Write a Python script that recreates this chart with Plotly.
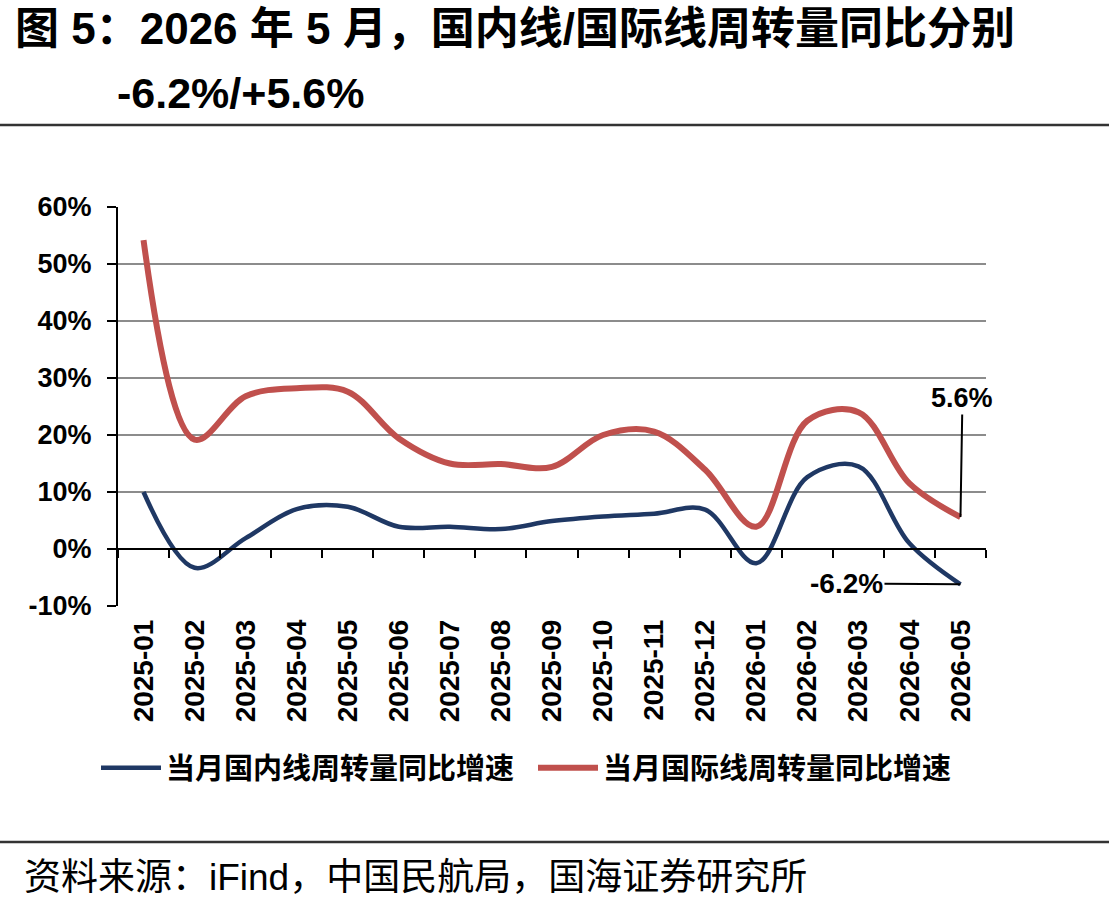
import plotly.graph_objects as go

months = ["2025-01", "2025-02", "2025-03", "2025-04", "2025-05", "2025-06",
          "2025-07", "2025-08", "2025-09", "2025-10", "2025-11", "2025-12",
          "2026-01", "2026-02", "2026-03", "2026-04", "2026-05"]
domestic = [0.100, -0.033, 0.019, 0.070, 0.074, 0.039, 0.039, 0.035, 0.049,
            0.057, 0.062, 0.069, -0.025, 0.126, 0.145, 0.010, -0.062]
international = [0.542, 0.192, 0.268, 0.282, 0.276, 0.194, 0.150, 0.149, 0.144,
                 0.200, 0.206, 0.139, 0.039, 0.225, 0.240, 0.115, 0.056]
name_dom = "当月国内线周转量同比增速"
name_int = "当月国际线周转量同比增速"
y_ticks = [-0.1, 0.0, 0.1, 0.2, 0.3, 0.4, 0.5, 0.6]
y_ticktext = ["%d%%" % round(v * 100) for v in y_ticks]

title1 = "图 5：2026 年 5 月，国内线/国际线周转量同比分别"
title2 = "-6.2%/+5.6%"
source = "资料来源：iFind，中国民航局，国海证券研究所"

W, H = 1109, 909
ML, MR, MT, MB = 118, 123, 207, 303
PW, PH = W - ML - MR, H - MT - MB
FONT = "Liberation Sans, Arial, Noto Sans CJK SC"
BLUE = "#1F3864"
RED = "#C0504D"


def px(x):
    return (x - ML) / PW


def py(y):
    return (H - MB - y) / PH


fig = go.Figure()
fig.add_trace(go.Scatter(x=months, y=domestic, name=name_dom, mode="lines",
                         legend="legend",
                         line=dict(color=BLUE, width=4.5, shape="spline", smoothing=1.0)))
fig.add_trace(go.Scatter(x=months, y=international, name=name_int, mode="lines",
                         legend="legend2",
                         line=dict(color=RED, width=6, shape="spline", smoothing=1.0)))
# carrier for the axis crossing at 0
fig.add_trace(go.Scatter(x=months, y=[None] * len(months), xaxis="x2", mode="lines",
                         showlegend=False, hoverinfo="skip"))

legend_common = dict(orientation="h", xref="container", yref="container",
                     y=1 - 768 / H, xanchor="left", yanchor="middle",
                     itemwidth=60,
                     font=dict(size=29, weight="bold", family=FONT, color="black"),
                     bgcolor="rgba(0,0,0,0)")

fig.update_layout(
    width=W, height=H,
    margin=dict(l=ML, r=MR, t=MT, b=MB, autoexpand=False),
    paper_bgcolor="white", plot_bgcolor="white",
    font=dict(family=FONT, color="black"),
    showlegend=True,
    legend=dict(x=96 / W, **legend_common),
    legend2=dict(x=533 / W, **legend_common),
    xaxis=dict(type="category", range=[-0.5, len(months) - 0.5], tickangle=-90,
               showline=False, ticks="", showgrid=False, zeroline=False,
               automargin=False,
               tickfont=dict(size=28, weight="bold", family=FONT),
               ticklabelstandoff=7),
    xaxis2=dict(type="category", overlaying="x", anchor="free",
                position=(0 - y_ticks[0]) / (y_ticks[-1] - y_ticks[0]),
                range=[-0.5, len(months) - 0.5], showline=True, linecolor="black",
                linewidth=2, ticks="outside", tickson="boundaries", ticklen=8,
                tickwidth=2, tickcolor="black", showticklabels=False,
                showgrid=False, zeroline=False, side="bottom", automargin=False),
    yaxis=dict(range=[y_ticks[0], y_ticks[-1]], tickvals=y_ticks, ticktext=y_ticktext,
               showline=True, linecolor="black", linewidth=2,
               ticks="outside", ticklen=9, tickwidth=2, tickcolor="black",
               showgrid=True, gridcolor="#8C8C8C", gridwidth=2, zeroline=False,
               automargin=False,
               tickfont=dict(size=27, weight="bold", family=FONT),
               ticklabelstandoff=10),
)

# value callouts
fig.add_annotation(x=months[-1], y=international[-1], xref="x", yref="y",
                   text="%.1f%%" % (international[-1] * 100), showarrow=True,
                   arrowhead=0, arrowwidth=2, arrowcolor="black", ax=2, ay=-119,
                   font=dict(size=27, weight="bold", family=FONT))
fig.add_annotation(x=months[-1], y=domestic[-1], xref="x", yref="y",
                   text="%.1f%%" % (domestic[-1] * 100), showarrow=True,
                   arrowhead=0, arrowwidth=2, arrowcolor="black", ax=-114, ay=-1,
                   font=dict(size=28, weight="bold", family=FONT))

# title and source
fig.add_annotation(x=px(13), y=py(29), xref="paper", yref="paper", text=title1,
                   showarrow=False, xanchor="left", yanchor="middle",
                   font=dict(size=44, weight="bold", family=FONT))
fig.add_annotation(x=px(115), y=py(93), xref="paper", yref="paper", text=title2,
                   showarrow=False, xanchor="left", yanchor="middle",
                   font=dict(size=43, weight="bold", family=FONT))
fig.add_annotation(x=px(22), y=py(877), xref="paper", yref="paper", text=source,
                   showarrow=False, xanchor="left", yanchor="middle",
                   font=dict(size=37, family=FONT))

for yy in (125, 842):
    fig.add_shape(type="line", xref="paper", yref="paper", x0=px(0), x1=px(W),
                  y0=py(yy), y1=py(yy), line=dict(color="#333333", width=2.5))

fig.write_html("out.html")
